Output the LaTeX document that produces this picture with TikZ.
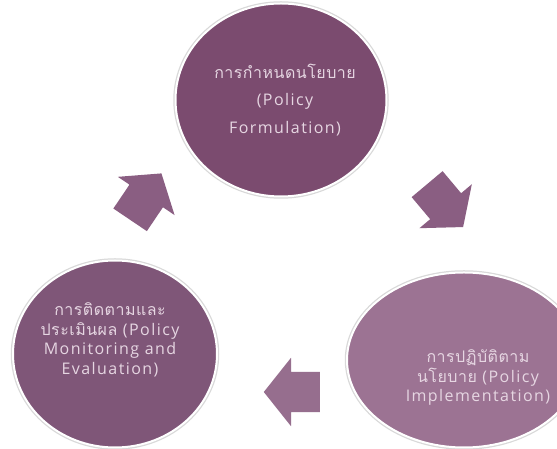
\documentclass[tikz,border=0pt]{standalone}
\usepackage{fontspec}
\setmainfont[LetterSpace=9]{Open Sans}
\newfontfamily\thaifont[Script=Thai,LetterSpace=3]{Loma}
\usetikzlibrary{shapes.geometric,shapes.arrows}

\definecolor{formcol}{HTML}{7B4B6F}
\definecolor{monicol}{HTML}{7F5678}
\definecolor{implcol}{HTML}{9C7393}
\definecolor{arrowcol}{HTML}{8A5E82}
\definecolor{textcol}{HTML}{E6D6E2}

\tikzset{
	stage/.style={ellipse, draw=white, line width=2pt, inner sep=0pt,
		preaction={draw=black!15, line width=4.5pt}},
	stagetext/.style={text=textcol, align=center, font=\fontsize{16}{19.5}\selectfont},
	cyclearrow/.style={single arrow, fill=arrowcol, inner xsep=0pt, inner ysep=20pt,
		minimum height=56pt, single arrow head extend=14pt, single arrow tip angle=103}
}

\begin{document}
\begin{tikzpicture}[x=1pt,y=1pt]
		\fill[white] (0,0) rectangle (557,449);
		\useasboundingbox (0,0) rectangle (557,449);
		% the three stages
		\node[stage, fill=formcol, minimum width=211pt, minimum height=193pt] (form) at (281,349) {};
		\node[stage, fill=monicol, minimum width=204pt, minimum height=187pt] (moni) at (115,95) {};
		\node[stage, fill=implcol, minimum width=234pt, minimum height=175pt] (impl) at (464,89) {};
		\node[stagetext, font=\fontsize{16}{27.5}\selectfont] (formtext) at (285,349)
			{{\thaifont การกำหนดนโยบาย}\\(Policy\\Formulation)};
		\node[stagetext] (monitext) at (110,109)
			{{\thaifont การติดตามและ}\\{\thaifont ประเมินผล} (Policy\\Monitoring and\\Evaluation)};
		\node[stagetext] (impltext) at (478,71)
			{{\thaifont การปฏิบัติตาม}\\{\thaifont นโยบาย} (Policy\\Implementation)};
		% arrows of the cycle
		\node[cyclearrow, rotate=56, anchor=tail] (toform) at (130,229) {};
		\node[cyclearrow, rotate=-50, anchor=tail] (toimpl) at (427,265) {};
		\node[cyclearrow, rotate=180, anchor=tail, fill=arrowcol!90!white] (tomoni) at (320,57) {};
	\end{tikzpicture}
\end{document}
